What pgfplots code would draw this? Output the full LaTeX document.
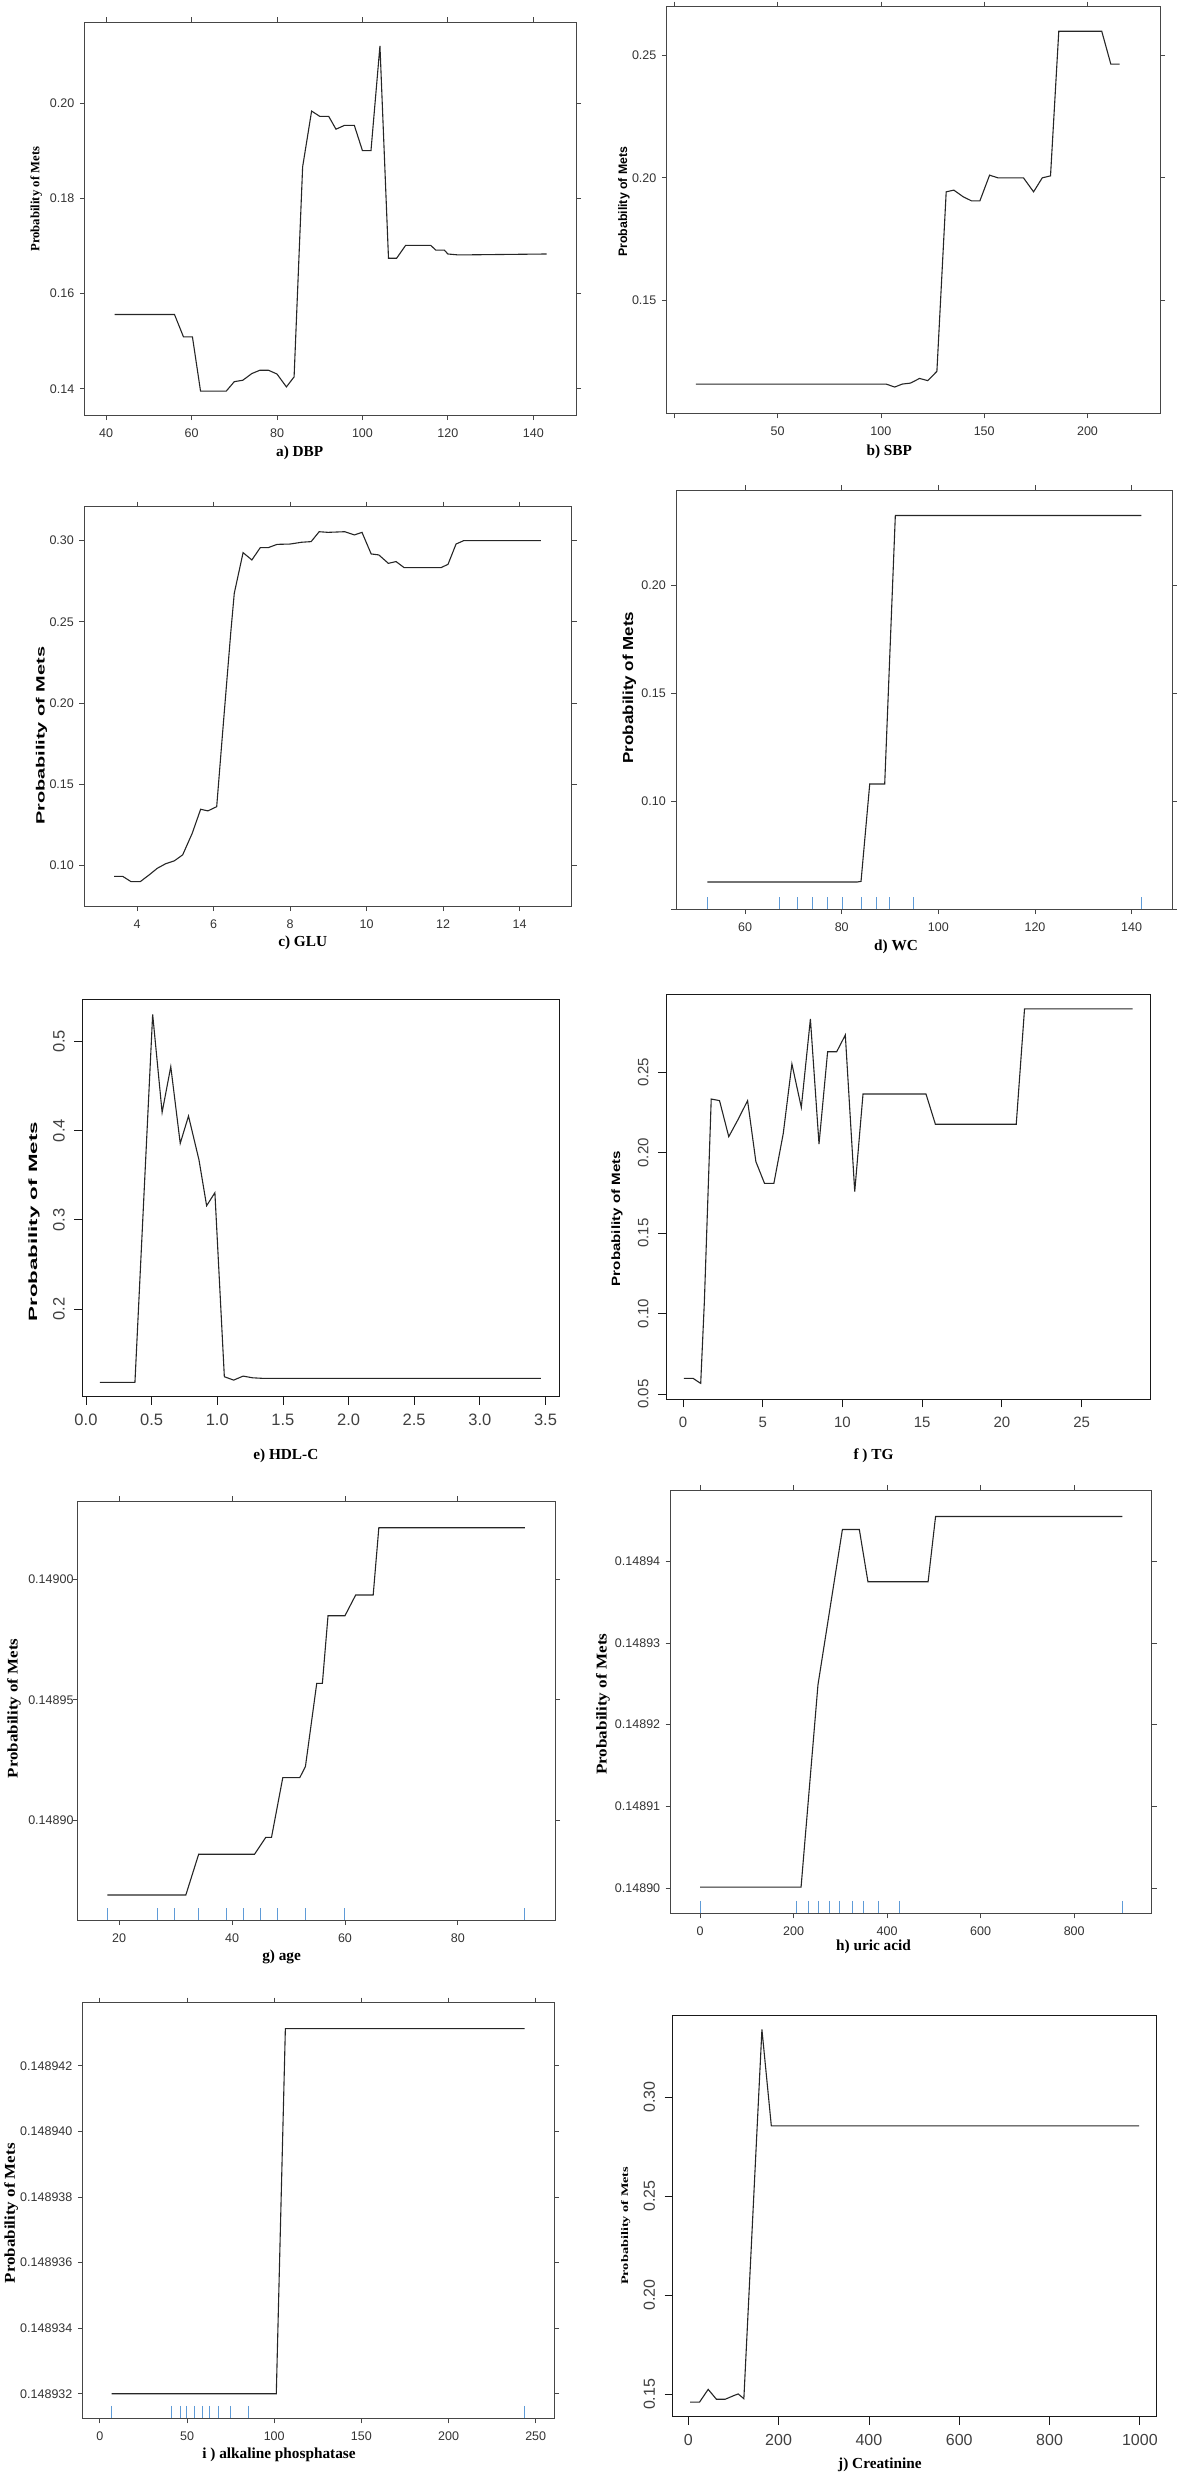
\documentclass[border=0pt]{standalone}
\usepackage{fontspec}
\setmainfont{Liberation Serif}
\newfontfamily\arial{Liberation Sans}
\usepackage{graphicx}
\usepackage{pgfplots}
\pgfplotsset{compat=1.18}
\newcommand\fs[1]{\fontsize{#1}{#1}\selectfont}
\definecolor{rugblue}{RGB}{95,155,215}
\definecolor{framegray}{RGB}{70,70,70}
% tiny-range panels: shift values before pgfplots' float maths loses digits
\makeatletter
\newcommand\metshift[1]{%
  \in@{Y}{#1}%
  \ifin@\pgfmathfloattosci{#1}\edef\met@tmp{\pgfmathresult}%
  \else\edef\met@tmp{#1}\fi
  \edef\pgfmathresult{\fpeval{(\met@tmp-0.1489)*1000000}}}
\makeatother
\pgfplotsset{
  lat/.style={scale only axis, anchor=north west,
    axis line style={draw=framegray, line width=1pt},
    tick align=outside, major tick length=5pt,
    tick style={draw=framegray, line width=0.8pt},
    tick label style={font=\arial\fs{12.5}, text=black!80},
    xticklabel shift=5pt, yticklabel shift=2pt},
  base/.style={scale only axis, anchor=north west,
    axis line style={draw=black!90, line width=0.8pt},
    tick align=outside, major tick length=8pt,
    xtick pos=bottom, ytick pos=left,
    tick style={draw=black!90, line width=0.8pt},
    tick label style={text=black!75},
    yticklabel style={rotate=90, anchor=south},
    xticklabel shift=6pt, yticklabel shift=6pt},
  pdp/.style={black!85, line width=1.1pt, no markers},
  rug/.style={only marks, mark=|, mark size=6pt,
    mark options={draw=rugblue, line width=1pt}},
  tiny y/.style={y coord trafo/.code={\metshift{##1}}},
}
\begin{document}
\begin{tikzpicture}
\useasboundingbox (0,0) rectangle (1176pt,-2476pt);

% ---- a) DBP ----
\begin{axis}[lat, at={(84.8pt,-22pt)}, width=491.2pt, height=393pt,
  xmin=35, xmax=150, ymin=0.1345, ymax=0.2170,
  xtick={40,60,80,100,120,140}, xticklabels={40,60,80,100,120,140},
  ytick={0.14,0.16,0.18,0.20}, yticklabels={0.14,0.16,0.18,0.20}]
\addplot[pdp] coordinates {
 (42,0.1556)(56,0.1556)(58.1,0.1509)(60.2,0.1509)(62.1,0.1395)(68.1,0.1395)
 (70,0.1415)(72,0.1418)(74.1,0.1432)(76,0.1439)(78,0.1439)(80,0.1431)
 (82.2,0.1404)(84,0.1425)(86,0.1866)(88.1,0.1983)(90,0.1972)(92.1,0.1972)
 (93.8,0.1945)(95.8,0.1953)(98.1,0.1953)(100,0.1900)(102,0.1900)(104.1,0.2120)
 (106.1,0.1674)(108,0.1674)(110.1,0.1701)(116,0.1701)(117.2,0.1691)(119.2,0.1691)
 (120,0.1683)(122.5,0.1681)(143.1,0.1683)};
\end{axis}
\node[rotate=90, inner sep=0, font=\bfseries\fs{12.7}] at (36.2pt,-199.2pt) {Probability of Mets};
\node[inner sep=0, font=\bfseries\fs{15.3}] at (299.7pt,-453.3pt) {a) DBP};

% ---- b) SBP ----
\begin{axis}[lat, at={(666.9pt,-6.7pt)}, width=493.3pt, height=406.6pt,
  xmin=-3.6, xmax=235.2, ymin=0.1041, ymax=0.2697,
  xtick={0,50,100,150,200}, xticklabels={,50,100,150,200},
  ytick={0.15,0.20,0.25}, yticklabels={0.15,0.20,0.25}]
\addplot[pdp] coordinates {
 (10.45,0.1160)(102.5,0.1160)(106.7,0.1148)(110.3,0.1160)(114.3,0.1164)
 (118.7,0.1183)(122.7,0.1174)(127.1,0.1212)(131.6,0.1943)(135.3,0.1950)
 (139.8,0.1923)(143.9,0.1906)(147.9,0.1906)(152.6,0.2011)(156.6,0.2000)
 (169,0.2000)(173.9,0.1943)(178.1,0.2000)(182.1,0.2008)(186.1,0.2597)
 (206.9,0.2597)(211.3,0.2463)(215.5,0.2463)};
\end{axis}
\node[rotate=90, inner sep=0, font=\arial\bfseries\fs{12.3}] at (624pt,-201.7pt) {Probability of Mets};
\node[inner sep=0, font=\bfseries\fs{15.3}] at (889.3pt,-451.7pt) {b) SBP};

% ---- c) GLU ----
\begin{axis}[lat, at={(84.4pt,-506.7pt)}, width=487.5pt, height=399.3pt,
  xmin=2.62, xmax=15.37, ymin=0.0749, ymax=0.3209,
  xtick={4,6,8,10,12,14}, xticklabels={4,6,8,10,12,14},
  ytick={0.10,0.15,0.20,0.25,0.30}, yticklabels={0.10,0.15,0.20,0.25,0.30}]
\addplot[pdp] coordinates {
 (3.40,0.0932)(3.62,0.0932)(3.84,0.0899)(4.08,0.0899)(4.31,0.0940)(4.53,0.0982)
 (4.75,0.1010)(4.97,0.1027)(5.19,0.1064)(5.44,0.1197)(5.66,0.1345)(5.85,0.1335)
 (6.08,0.1361)(6.23,0.1803)(6.45,0.2439)(6.54,0.2676)(6.77,0.2926)(7.00,0.2881)
 (7.22,0.2957)(7.43,0.2957)(7.66,0.2977)(8.00,0.2979)(8.30,0.2990)(8.55,0.2994)
 (8.76,0.3055)(8.99,0.3051)(9.43,0.3055)(9.68,0.3035)(9.88,0.3051)(10.12,0.2918)
 (10.32,0.2912)(10.57,0.2860)(10.77,0.2871)(10.98,0.2834)(11.95,0.2834)
 (12.13,0.2854)(12.34,0.2979)(12.54,0.3000)(14.56,0.3000)};
\end{axis}
\node[rotate=90, inner sep=0, font=\arial\bfseries\fs{12}] at (41.5pt,-735.8pt) {\scalebox{1.66}[1]{Probability of Mets}};
\node[inner sep=0, font=\bfseries\fs{15.3}] at (302.7pt,-943.3pt) {c) GLU};

% ---- d) WC ----
\begin{axis}[lat, at={(676.3pt,-490pt)}, width=495.9pt, height=419pt,
  xmin=45.77, xmax=148.4, ymin=0.05, ymax=0.2441,
  xtick={60,80,100,120,140}, xticklabels={60,80,100,120,140},
  ytick={0.05,0.10,0.15,0.20}, yticklabels={,0.10,0.15,0.20}]
\addplot[pdp] coordinates {
 (52.2,0.0625)(83.2,0.0625)(84.0,0.0628)(85.8,0.1079)(88.9,0.1079)
 (91.1,0.2323)(142.0,0.2323)};
\addplot[rug] coordinates {
 (52.2,0.05278)(67.2,0.05278)(70.9,0.05278)(73.9,0.05278)(77.0,0.05278)
 (80.1,0.05278)(84.0,0.05278)(87.1,0.05278)(89.9,0.05278)(94.9,0.05278)
 (142.0,0.05278)};
\end{axis}
\node[rotate=90, inner sep=0, font=\arial\bfseries\fs{14.5}] at (629.3pt,-687.5pt) {\scalebox{1.17}[1]{Probability of Mets}};
\node[inner sep=0, font=\bfseries\fs{15.3}] at (896pt,-946.7pt) {d) WC};

% ---- e) HDL-C ----
\begin{axis}[base, at={(82.2pt,-999.3pt)}, width=476.8pt, height=397.4pt,
  tick label style={font=\arial\fs{16.5}},
  xmin=-0.0287, xmax=3.603, ymin=0.1018, ymax=0.5471,
  xtick={0,0.5,1,1.5,2,2.5,3,3.5},
  xticklabels={0.0,0.5,1.0,1.5,2.0,2.5,3.0,3.5},
  ytick={0.2,0.3,0.4,0.5}, yticklabels={0.2,0.3,0.4,0.5}]
\addplot[pdp] coordinates {
 (0.106,0.1178)(0.373,0.1178)(0.508,0.5302)(0.580,0.4204)(0.646,0.4716)
 (0.718,0.3857)(0.781,0.4163)(0.861,0.3670)(0.919,0.3158)(0.982,0.3304)
 (1.054,0.1242)(1.125,0.1204)(1.197,0.1249)(1.269,0.1230)(1.355,0.1223)
 (3.465,0.1223)};
\end{axis}
\node[rotate=90, inner sep=0, font=\arial\bfseries\fs{12}] at (33.9pt,-1221.7pt) {\scalebox{1.86}[1]{Probability of Mets}};
\node[inner sep=0, font=\bfseries\fs{15.3}] at (285.8pt,-1456pt) {e) HDL-C};

% ---- f) TG ----
\begin{axis}[base, at={(666.1pt,-994.3pt)}, width=484.7pt, height=405pt,
  tick label style={font=\arial\fs{15}},
  xmin=-1.06, xmax=29.34, ymin=0.0467, ymax=0.2985,
  xtick={0,5,10,15,20,25}, xticklabels={0,5,10,15,20,25},
  ytick={0.05,0.10,0.15,0.20,0.25}, yticklabels={0.05,0.10,0.15,0.20,0.25}]
\addplot[pdp] coordinates {
 (0.05,0.0597)(0.64,0.0597)(1.11,0.0566)(1.34,0.1074)(1.77,0.2334)(2.29,0.2324)
 (2.87,0.2100)(3.46,0.2208)(4.05,0.2324)(4.57,0.1945)(5.11,0.1810)(5.70,0.1810)
 (6.29,0.2121)(6.83,0.2552)(7.42,0.2282)(7.99,0.2832)(8.53,0.2054)(9.07,0.2628)
 (9.64,0.2628)(10.18,0.2732)(10.77,0.1758)(11.29,0.2365)(15.24,0.2365)
 (15.83,0.2177)(20.90,0.2177)(21.42,0.2894)(28.20,0.2894)};
\end{axis}
\node[rotate=90, inner sep=0, font=\arial\bfseries\fs{12}] at (617pt,-1218.5pt) {\scalebox{1.26}[1]{Probability of Mets}};
\node[inner sep=0, font=\bfseries\fs{15.3}] at (873.5pt,-1456pt) {f ) TG};

% ---- g) age ----
\begin{axis}[lat, tiny y, at={(78pt,-1501pt)}, width=477pt, height=419pt,
  yticklabel shift=-4pt,
  xmin=12.72, xmax=97.2, ymin=0.1488586, ymax=0.1490325,
  xtick={20,40,60,80}, xticklabels={20,40,60,80},
  ytick={0.14890,0.14895,0.14900}, yticklabels={0.14890,0.14895,0.14900}]
\addplot[pdp] coordinates {
 (17.93,0.1488690)(31.82,0.1488690)(34.09,0.1488859)(43.98,0.1488859)
 (45.98,0.1488929)(46.99,0.1488929)(48.99,0.1489177)(52.0,0.1489177)
 (53.0,0.1489223)(55.0,0.1489568)(56.0,0.1489568)(57.0,0.1489849)
 (60.0,0.1489849)(61.9,0.1489935)(65.0,0.1489935)(66.0,0.1490214)
 (91.88,0.1490214)};
\addplot[rug] coordinates {
 (17.93,0.1488610)(26.81,0.1488610)(29.82,0.1488610)(34.09,0.1488610)
 (39.04,0.1488610)(42.04,0.1488610)(44.98,0.1488610)(48.06,0.1488610)
 (53.0,0.1488610)(60.0,0.1488610)(91.88,0.1488610)};
\end{axis}
\node[rotate=90, inner sep=0, font=\bfseries\fs{14.7}] at (14pt,-1708.3pt) {\scalebox{1.15}[1]{Probability of Mets}};
\node[inner sep=0, font=\bfseries\fs{15.3}] at (281.6pt,-1956.7pt) {g) age};

% ---- h) uric acid ----
\begin{axis}[lat, tiny y, at={(670.7pt,-1490.3pt)}, width=480.9pt, height=423pt,
  xmin=-62.7, xmax=965.5, ymin=0.1488969, ymax=0.1489487,
  xtick={0,200,400,600,800}, xticklabels={0,200,400,600,800},
  ytick={0.14890,0.14891,0.14892,0.14893,0.14894},
  yticklabels={0.14890,0.14891,0.14892,0.14893,0.14894}]
\addplot[pdp] coordinates {
 (0,0.1489001)(216,0.1489001)(252.2,0.1489249)(304.4,0.1489439)
 (340.6,0.1489439)(359.0,0.1489375)(487.6,0.1489375)(503.6,0.1489455)
 (902.8,0.1489455)};
\addplot[rug] coordinates {
 (0,0.1488977)(206.4,0.1488977)(232.9,0.1488977)(253.8,0.1488977)
 (276.3,0.1488977)(298.8,0.1488977)(325.3,0.1488977)(349.4,0.1488977)
 (382.3,0.1488977)(427.3,0.1488977)(902.8,0.1488977)};
\end{axis}
\node[rotate=90, inner sep=0, font=\bfseries\fs{15}] at (603pt,-1704.2pt) {\scalebox{1.14}[1]{Probability of Mets}};
\node[inner sep=0, font=\bfseries\fs{15.3}] at (873.5pt,-1946.7pt) {h) uric acid};

% ---- i) alkaline phosphatase ----
\begin{axis}[lat, tiny y, at={(82.9pt,-2002.7pt)}, width=471.3pt, height=415.6pt,
  xmin=-9.73, xmax=260.6, ymin=0.14893125, ymax=0.14894392,
  xtick={0,50,100,150,200,250}, xticklabels={0,50,100,150,200,250},
  ytick={0.148932,0.148934,0.148936,0.148938,0.148940,0.148942},
  yticklabels={0.148932,0.148934,0.148936,0.148938,0.148940,0.148942}]
\addplot[pdp] coordinates {
 (6.7,0.148932)(101.2,0.148932)(106.4,0.14894313)(243.7,0.14894313)};
\addplot[rug] coordinates {
 (6.7,0.14893145)(41.3,0.14893145)(46.5,0.14893145)(49.96,0.14893145)
 (54.1,0.14893145)(58.8,0.14893145)(63.1,0.14893145)(68.1,0.14893145)
 (75.0,0.14893145)(85.4,0.14893145)(243.7,0.14893145)};
\end{axis}
\node[rotate=90, inner sep=0, font=\bfseries\fs{15}] at (11.3pt,-2213.3pt) {\scalebox{1.13}[1]{Probability of Mets}};
\node[inner sep=0, font=\bfseries\fs{15.3}] at (279pt,-2455pt) {i ) alkaline phosphatase};

% ---- j) Creatinine ----
\begin{axis}[base, at={(672.5pt,-2015pt)}, width=483.9pt, height=401.7pt,
  tick label style={font=\arial\fs{16}},
  xmin=-34.9, xmax=1036.6, ymin=0.1387, ymax=0.3414,
  xtick={0,200,400,600,800,1000}, xticklabels={0,200,400,600,800,1000},
  ytick={0.15,0.20,0.25,0.30}, yticklabels={0.15,0.20,0.25,0.30}]
\addplot[pdp] coordinates {
 (4.2,0.1461)(25.0,0.1461)(44.1,0.1525)(62.4,0.1475)(81.5,0.1475)
 (102.3,0.1495)(110.6,0.1502)(123.1,0.1478)(163.1,0.3341)(183.9,0.2855)
 (998.3,0.2855)};
\end{axis}
\node[rotate=90, inner sep=0, font=\bfseries\fs{10}] at (625.6pt,-2225.8pt) {\scalebox{1.43}[1]{Probability of Mets}};
\node[inner sep=0, font=\bfseries\fs{15.3}] at (879.9pt,-2465pt) {j) Creatinine};

\end{tikzpicture}
\end{document}
